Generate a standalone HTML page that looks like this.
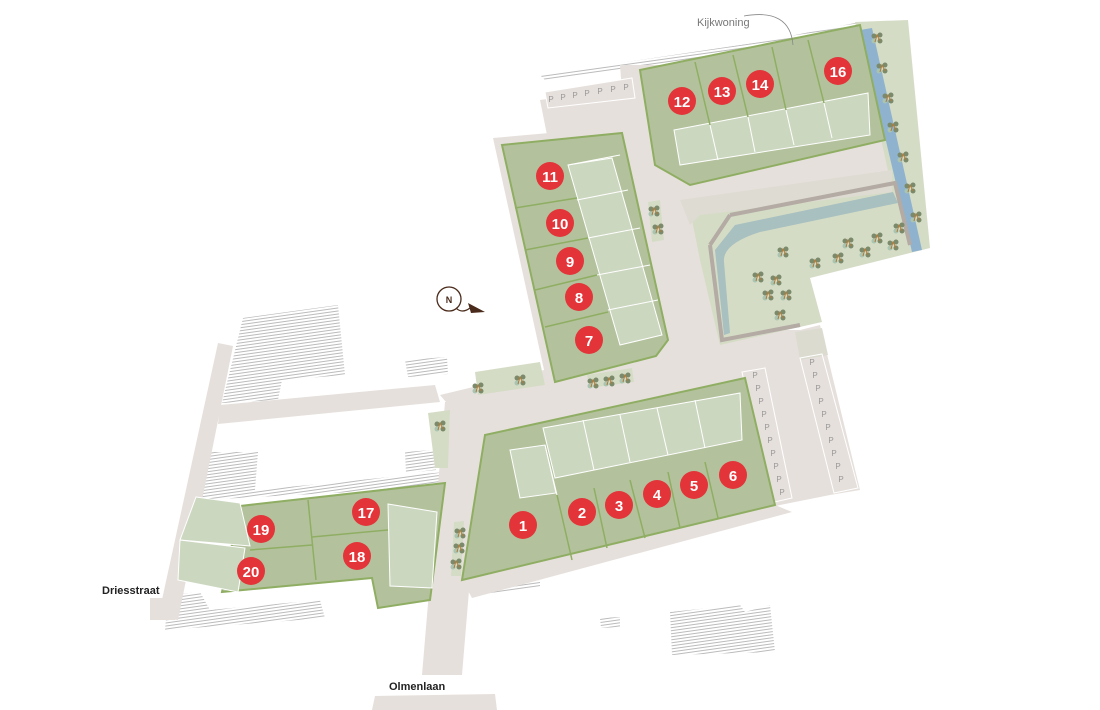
<!DOCTYPE html>
<html><head><meta charset="utf-8"><style>
html,body{margin:0;padding:0;background:#fff;}
svg{display:block;}
text{font-family:"Liberation Sans",sans-serif;}
.n{fill:#fff;font-size:15px;font-weight:bold;text-anchor:middle;}
.p{fill:#999;font-size:8px;text-anchor:middle;}
</style></head><body>
<svg width="1100" height="710" viewBox="0 0 1100 710" xmlns="http://www.w3.org/2000/svg">
<defs>
<pattern id="h" width="3" height="3" patternUnits="userSpaceOnUse" patternTransform="rotate(-8)">
<rect width="3" height="3" fill="#fff"/><line x1="0" y1="1" x2="3" y2="1" stroke="#aaa" stroke-width="0.8"/>
</pattern>
<g id="t"><circle cx="-3" cy="-2" r="2.5" fill="#7a8a6a"/><circle cx="3" cy="-3" r="2.5" fill="#7a8a6a"/><circle cx="-3" cy="3" r="2.5" fill="#a9c4b0"/><circle cx="3" cy="3" r="2.5" fill="#7a8a6a"/><path d="M-2 4 L0 -3 L3 3" stroke="#b07a3a" stroke-width="1" fill="none"/></g>
</defs>
<!-- hatched buildings -->
<g fill="url(#h)">
<polygon points="243,318 338,305 345,375 282,380 278,400 222,403"/>
<polygon points="405,360 447,357 448,374 408,377"/>
<polygon points="208,452 258,452 255,490 320,484 380,478 445,472 445,487 200,500"/>
<polygon points="405,452 433,450 436,470 406,473"/>
<polygon points="168,595 200,592 210,610 320,600 325,618 165,630"/>
<polygon points="540,75 760,42 860,22 862,38 640,68 545,80"/>
<polygon points="670,612 740,605 745,612 770,605 775,652 672,655"/>
<polygon points="600,618 620,617 620,627 601,628"/>
<polygon points="483,588 540,580 540,587 485,594"/>
</g>
<!-- roads -->
<g fill="#e6e0dc">
<polygon points="218,343 233,346 178,620 158,618"/>
<polygon points="150,598 175,598 175,620 150,620"/>
<polygon points="220,405 435,385 440,402 218,424"/>
<polygon points="445,402 485,398 462,675 422,675"/>
<polygon points="375,696 495,694 497,710 372,710"/>
<polygon points="440,395 690,335 730,330 800,330 820,325 860,490 830,495 780,505 462,590 470,430"/>
<polygon points="462,580 775,505 792,512 472,598"/>
<polygon points="493,138 640,125 690,335 560,385 548,388"/>
<polygon points="625,128 690,180 705,215 712,260 724,345 680,352"/>
<polygon points="540,100 650,85 670,180 890,140 892,190 680,215 650,250 630,132 548,140"/>
<polygon points="620,65 660,65 665,130 625,132"/>
<polygon points="545,92 630,78 632,98 548,108"/>
</g>
<!-- park -->
<polygon points="855,22 908,20 930,248 810,278 822,322 720,345 700,260 690,210 890,180" fill="#d5dcc6"/>
<polygon points="680,200 892,170 892,192 700,215 690,225" fill="#dedbd2"/>
<polygon points="860,30 872,28 922,250 912,252" fill="#8fb3cf"/>
<path d="M730,215 L895,183 L910,245 M710,245 L730,215 M710,245 L722,340 L800,325" stroke="#b3aba4" stroke-width="4" fill="none"/>
<path d="M735,225 L893,192 L898,203 L760,232 Q722,244 724,262 L730,333 L724,335 L715,250 Z" fill="#a8c0bf"/>
<polygon points="795,332 822,328 828,355 800,360" fill="#dcdbd0"/>
<!-- parking -->
<g fill="none" stroke="#fff" stroke-width="1">
<polygon points="742,372 765,368 792,498 770,503"/>
<polygon points="800,358 822,354 858,488 834,493"/>
<polygon points="545,92 632,78 635,98 548,108"/>
</g>
<g class="p">
<text x="755" y="378" class="p">P</text><text x="758" y="391" class="p">P</text><text x="761" y="404" class="p">P</text><text x="764" y="417" class="p">P</text><text x="767" y="430" class="p">P</text><text x="770" y="443" class="p">P</text><text x="773" y="456" class="p">P</text><text x="776" y="469" class="p">P</text><text x="779" y="482" class="p">P</text><text x="782" y="495" class="p">P</text>
<text x="812" y="365" class="p">P</text><text x="815" y="378" class="p">P</text><text x="818" y="391" class="p">P</text><text x="821" y="404" class="p">P</text><text x="824" y="417" class="p">P</text><text x="828" y="430" class="p">P</text><text x="831" y="443" class="p">P</text><text x="834" y="456" class="p">P</text><text x="838" y="469" class="p">P</text><text x="841" y="482" class="p">P</text>
<text x="551" y="102" class="p">P</text><text x="563" y="100" class="p">P</text><text x="575" y="98" class="p">P</text><text x="587" y="96" class="p">P</text><text x="600" y="94" class="p">P</text><text x="613" y="92" class="p">P</text><text x="626" y="90" class="p">P</text>
</g>
<!-- small green strips -->
<g fill="#d5dcc6">
<polygon points="475,372 540,362 545,385 478,395"/>
<polygon points="428,413 450,410 448,468 435,468"/>
<polygon points="648,202 660,200 664,240 652,242"/>
<polygon points="587,375 632,368 634,382 589,388"/>
<polygon points="454,522 464,521 461,576 451,576"/>
</g>
<!-- plots -->
<g fill="#b3c29c" stroke="#8fae63" stroke-width="2">
<polygon points="485,435 745,378 775,505 462,580"/>
<polygon points="502,145 622,133 668,340 656,356 555,382"/>
<polygon points="640,70 860,25 885,140 690,185 655,165"/>
<polygon points="240,506 445,483 430,600 378,608 372,578 222,592"/>
</g>
<!-- houses -->
<g fill="#ccd7c0" stroke="#fff" stroke-width="1">
<polygon points="510,450 545,445 556,493 520,498"/>
<polygon points="543,428 740,393 742,440 555,478"/>
<polygon points="568,165 612,158 662,335 620,345"/>
<polygon points="674,130 868,93 870,135 680,165"/>
<polygon points="196,497 240,503 250,546 180,540"/>
<polygon points="180,540 245,548 238,592 178,580"/>
<polygon points="388,504 437,512 432,588 390,586"/>
</g>
<g stroke="#fff" stroke-width="1">
<line x1="545" y1="445" x2="557" y2="495"/><line x1="583" y1="420" x2="594" y2="470"/><line x1="620" y1="415" x2="630" y2="462"/><line x1="657" y1="408" x2="668" y2="455"/><line x1="695" y1="400" x2="705" y2="448"/>
<line x1="568" y1="165" x2="620" y2="155"/><line x1="577" y1="200" x2="628" y2="190"/><line x1="588" y1="238" x2="640" y2="228"/><line x1="597" y1="275" x2="650" y2="265"/><line x1="608" y1="310" x2="658" y2="300"/>
<line x1="710" y1="125" x2="718" y2="160"/><line x1="748" y1="117" x2="755" y2="152"/><line x1="786" y1="110" x2="794" y2="145"/><line x1="824" y1="103" x2="832" y2="138"/>
</g>
<g stroke="#8fae63" stroke-width="1.5" fill="none">
<line x1="557" y1="495" x2="572" y2="560"/><line x1="594" y1="488" x2="607" y2="548"/><line x1="630" y1="480" x2="645" y2="538"/><line x1="668" y1="472" x2="680" y2="528"/><line x1="705" y1="462" x2="718" y2="518"/>
<line x1="515" y1="208" x2="577" y2="198"/><line x1="525" y1="250" x2="588" y2="238"/><line x1="535" y1="290" x2="597" y2="275"/><line x1="545" y1="327" x2="608" y2="312"/>
<line x1="695" y1="62" x2="710" y2="125"/><line x1="733" y1="55" x2="748" y2="117"/><line x1="772" y1="47" x2="786" y2="110"/><line x1="808" y1="40" x2="824" y2="103"/>
<line x1="308" y1="500" x2="316" y2="580"/><line x1="312" y1="537" x2="388" y2="530"/><line x1="250" y1="550" x2="312" y2="545"/>
</g>
<!-- trees -->
<g>
<use href="#t" x="877" y="38"/><use href="#t" x="882" y="68"/><use href="#t" x="888" y="98"/><use href="#t" x="893" y="127"/><use href="#t" x="903" y="157"/><use href="#t" x="910" y="188"/><use href="#t" x="916" y="217"/><use href="#t" x="899" y="228"/>
<use href="#t" x="783" y="252"/><use href="#t" x="815" y="263"/><use href="#t" x="838" y="258"/><use href="#t" x="848" y="243"/><use href="#t" x="865" y="252"/><use href="#t" x="877" y="238"/><use href="#t" x="893" y="245"/>
<use href="#t" x="758" y="277"/><use href="#t" x="776" y="280"/><use href="#t" x="768" y="295"/><use href="#t" x="786" y="295"/><use href="#t" x="780" y="315"/>
<use href="#t" x="654" y="211"/><use href="#t" x="658" y="229"/>
<use href="#t" x="520" y="380"/><use href="#t" x="478" y="388"/><use href="#t" x="593" y="383"/><use href="#t" x="609" y="381"/><use href="#t" x="625" y="378"/>
<use href="#t" x="440" y="426"/><use href="#t" x="460" y="533"/><use href="#t" x="459" y="548"/><use href="#t" x="456" y="564"/>
</g>
<!-- numbers -->
<g fill="#e3343a">
<circle cx="523" cy="525" r="14"/><circle cx="582" cy="512" r="14"/><circle cx="619" cy="505" r="14"/><circle cx="657" cy="494" r="14"/><circle cx="694" cy="485" r="14"/><circle cx="733" cy="475" r="14"/>
<circle cx="589" cy="340" r="14"/><circle cx="579" cy="297" r="14"/><circle cx="570" cy="261" r="14"/><circle cx="560" cy="223" r="14"/><circle cx="550" cy="176" r="14"/>
<circle cx="682" cy="101" r="14"/><circle cx="722" cy="91" r="14"/><circle cx="760" cy="84" r="14"/><circle cx="838" cy="71" r="14"/>
<circle cx="366" cy="512" r="14"/><circle cx="357" cy="556" r="14"/><circle cx="261" cy="529" r="14"/><circle cx="251" cy="571" r="14"/>
</g>
<g class="n">
<text x="523" y="531" class="n">1</text><text x="582" y="518" class="n">2</text><text x="619" y="511" class="n">3</text><text x="657" y="500" class="n">4</text><text x="694" y="491" class="n">5</text><text x="733" y="481" class="n">6</text>
<text x="589" y="346" class="n">7</text><text x="579" y="303" class="n">8</text><text x="570" y="267" class="n">9</text><text x="560" y="229" class="n">10</text><text x="550" y="182" class="n">11</text>
<text x="682" y="107" class="n">12</text><text x="722" y="97" class="n">13</text><text x="760" y="90" class="n">14</text><text x="838" y="77" class="n">16</text>
<text x="366" y="518" class="n">17</text><text x="357" y="562" class="n">18</text><text x="261" y="535" class="n">19</text><text x="251" y="577" class="n">20</text>
</g>
<!-- north -->
<circle cx="449" cy="299" r="12" fill="none" stroke="#4a2a1a" stroke-width="1.3"/>
<text x="449" y="303" text-anchor="middle" font-size="9" font-weight="bold" fill="#4a2a1a">N</text>
<path d="M456 308 Q462 314 470 308" stroke="#4a2a1a" fill="none" stroke-width="1.2"/>
<polygon points="485,312 468,303 471,313" fill="#4a2a1a"/>
<!-- labels -->
<text x="697" y="26" font-size="11" fill="#777">Kijkwoning</text>
<path d="M744 16 Q790 8 793 45" stroke="#888" fill="none" stroke-width="0.8"/>
<text x="102" y="594" font-size="11" font-weight="bold" fill="#222">Driesstraat</text>
<text x="389" y="690" font-size="11" font-weight="bold" fill="#222">Olmenlaan</text>
</svg>
</body></html>
